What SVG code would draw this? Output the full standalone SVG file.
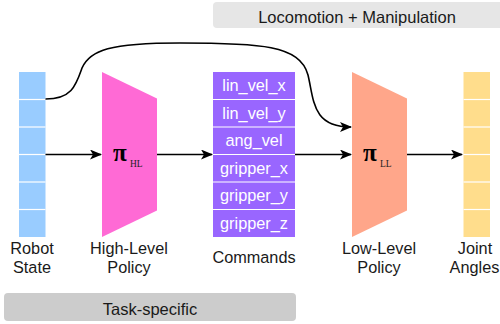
<svg xmlns="http://www.w3.org/2000/svg" width="500" height="324" viewBox="0 0 500 324">
<style>
.lbl{font-family:"Liberation Sans",Arial,sans-serif;font-size:16.3px;fill:#1a1a1a;text-anchor:middle}
.band{font-family:"Liberation Sans",Arial,sans-serif;font-size:16.5px;fill:#1a1a1a;text-anchor:middle}
.cmd{font-family:"Liberation Sans",Arial,sans-serif;font-size:16.3px;fill:#ffffff;text-anchor:middle}
.pi{font-family:"Liberation Serif","Times New Roman",serif;font-size:25px;font-weight:bold;fill:#000}
.sub{font-family:"Liberation Serif","Times New Roman",serif;font-size:9.5px;fill:#222}
.sep{stroke:#ffffff;stroke-width:1.2}
.conn{fill:none;stroke:#000;stroke-width:1.6}
</style>
<defs>
<marker id="ah" viewBox="0 0 12 10" refX="11" refY="5" markerWidth="12" markerHeight="10" markerUnits="userSpaceOnUse" orient="auto">
<path d="M0,0 L12,5 L0,10 L3,5 Z" fill="#000"/>
</marker>
</defs>
<g id="band-top">
<rect x="213" y="2" width="290" height="26" rx="4" fill="#e6e6e6"/>
<text class="band" x="357" y="23">Locomotion + Manipulation</text>
</g>
<g id="band-bottom">
<rect x="4" y="293" width="292" height="28" rx="4" fill="#cccccc"/>
<text class="band" x="150" y="315">Task-specific</text>
</g>
<g id="robot-state">
<rect x="19" y="72" width="26.5" height="165" fill="#99ccff"/>
<line class="sep" x1="19" y1="99.5" x2="45.5" y2="99.5"/>
<line class="sep" x1="19" y1="127" x2="45.5" y2="127"/>
<line class="sep" x1="19" y1="154.5" x2="45.5" y2="154.5"/>
<line class="sep" x1="19" y1="182" x2="45.5" y2="182"/>
<line class="sep" x1="19" y1="209.5" x2="45.5" y2="209.5"/>
<text class="lbl" x="32" y="254">Robot</text>
<text class="lbl" x="32" y="273">State</text>
</g>
<g id="high-level-policy">
<polygon points="102,72 157,98.5 157,210.5 102,237" fill="#ff6ad5"/>
<text class="pi" x="113" y="161">π</text>
<text class="sub" x="130" y="167">HL</text>
<text class="lbl" x="129" y="254">High-Level</text>
<text class="lbl" x="129" y="273">Policy</text>
</g>
<g id="commands">
<rect x="213" y="72" width="82" height="165" fill="#9966ff"/>
<line class="sep" x1="213" y1="99.5" x2="295" y2="99.5"/>
<line class="sep" x1="213" y1="127" x2="295" y2="127"/>
<line class="sep" x1="213" y1="154.5" x2="295" y2="154.5"/>
<line class="sep" x1="213" y1="182" x2="295" y2="182"/>
<line class="sep" x1="213" y1="209.5" x2="295" y2="209.5"/>
<text class="cmd" x="254" y="91">lin_vel_x</text>
<text class="cmd" x="254" y="118.5">lin_vel_y</text>
<text class="cmd" x="254" y="146">ang_vel</text>
<text class="cmd" x="254" y="173.5">gripper_x</text>
<text class="cmd" x="254" y="201">gripper_y</text>
<text class="cmd" x="254" y="228.5">gripper_z</text>
<text class="lbl" x="254" y="263">Commands</text>
</g>
<g id="low-level-policy">
<polygon points="352,72 407,98.5 407,210.5 352,237" fill="#ffa68a"/>
<text class="pi" x="363" y="161">π</text>
<text class="sub" x="380" y="167">LL</text>
<text class="lbl" x="379" y="254">Low-Level</text>
<text class="lbl" x="379" y="273">Policy</text>
</g>
<g id="joint-angles">
<rect x="463.5" y="72" width="26.5" height="165" fill="#ffdd8c"/>
<line class="sep" x1="463.5" y1="99.5" x2="490" y2="99.5"/>
<line class="sep" x1="463.5" y1="127" x2="490" y2="127"/>
<line class="sep" x1="463.5" y1="154.5" x2="490" y2="154.5"/>
<line class="sep" x1="463.5" y1="182" x2="490" y2="182"/>
<line class="sep" x1="463.5" y1="209.5" x2="490" y2="209.5"/>
<text class="lbl" x="475" y="254">Joint</text>
<text class="lbl" x="474.5" y="273">Angles</text>
</g>
<g id="connectors">
<line class="conn" x1="45.5" y1="154.5" x2="101" y2="154.5" marker-end="url(#ah)"/>
<line class="conn" x1="157" y1="154.5" x2="212" y2="154.5" marker-end="url(#ah)"/>
<line class="conn" x1="295" y1="154.5" x2="351" y2="154.5" marker-end="url(#ah)"/>
<line class="conn" x1="407" y1="154.5" x2="462" y2="154.5" marker-end="url(#ah)"/>
<path class="conn" d="M45.5,99 C72,99 76,85 82,68 C90,50 110,43 180,43 C260,43 300,45 308,75 C314,100 312,127 351,127" marker-end="url(#ah)"/>
</g>
</svg>
